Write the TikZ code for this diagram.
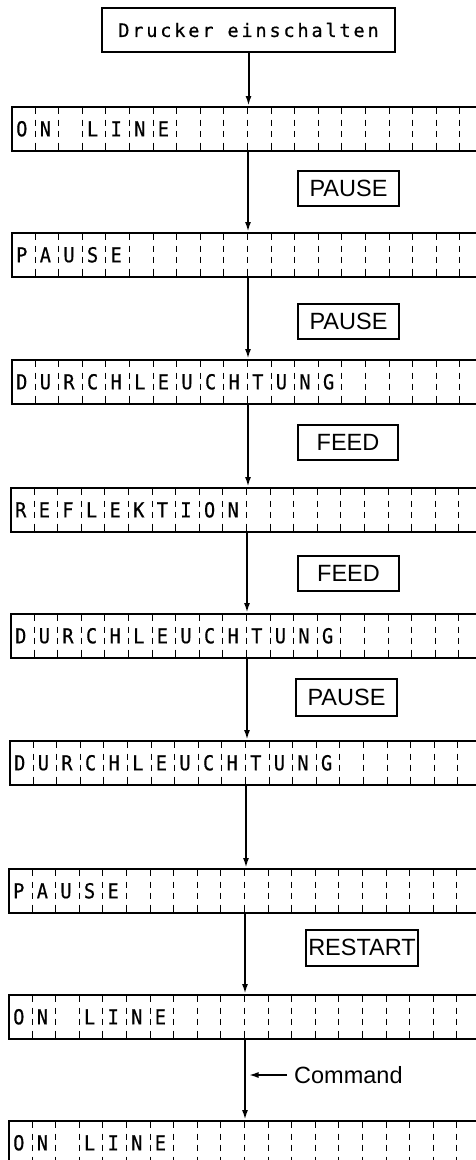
\documentclass[tikz,border=0pt]{standalone}
\usepackage{fontspec}
\usepackage{graphicx}
\usetikzlibrary{arrows.meta}
\newfontfamily\lblfont{Liberation Sans}
\newfontfamily\lcdfontfam[FakeBold=0.6]{DejaVu Sans Mono}
\newfontfamily\topfontfam[LetterSpace=15.5,FakeBold=0.6]{DejaVu Sans Mono}
\tikzset{
  lcdbox/.style={draw, line width=2pt, minimum width=500pt, minimum height=44pt, inner sep=0pt},
  cellsep/.style={line width=1pt, dash pattern=on 7.5pt off 6pt on 6pt off 5pt on 6pt off 6pt on 7.5pt},
  lcdchar/.style={inner sep=0pt, font=\lcdfontfam\fontsize{20.6}{24}\selectfont},
  lbl/.style={draw, line width=2pt, inner sep=0pt, font=\lblfont\fontsize{23.5}{26}\selectfont},
  topbox/.style={draw, line width=2pt, inner sep=0pt, minimum width=293pt, minimum height=44pt, font=\topfontfam\fontsize{18.5}{20}\selectfont},
  flow/.style={line width=2pt, -{Latex[length=10pt,width=6pt]}},
  cmdtext/.style={inner sep=0pt, font=\lblfont\fontsize{23.5}{26}\selectfont}
}
% name, arrow x, top y, letters
\newcommand\lcdrow[4]{%
  \node[lcdbox, anchor=north west] (#1) at (#2-237,#3) {};
  \foreach \j in {1,...,19} {\draw[cellsep] (#2+\j*23.6-236.5,#3) -- ++(0,44);}
  \foreach \c [count=\k] in {#4} {\node[lcdchar] at (#2+\k*23.6-248.3-1.5,#3+22.8) {\scalebox{0.9}[1]{\c}};}
  \coordinate (#1t) at (#2,#3);
  \coordinate (#1b) at (#2,#3+44);
}
\begin{document}
\begin{tikzpicture}[x=1pt,y=-1pt]
\useasboundingbox (0,0) rectangle (476,1160);
\clip (0,0) rectangle (476,1160);

\node[topbox] (start) at (248.5,30) {Drucker einschalten};

\lcdrow{lcdA}{248}{106}{O,N,{},L,I,N,E}
\lcdrow{lcdB}{248}{232}{P,A,U,S,E}
\lcdrow{lcdC}{248}{359}{D,U,R,C,H,L,E,U,C,H,T,U,N,G}
\lcdrow{lcdD}{247}{487}{R,E,F,L,E,K,T,I,O,N}
\lcdrow{lcdE}{247}{613}{D,U,R,C,H,L,E,U,C,H,T,U,N,G}
\lcdrow{lcdF}{246}{740}{D,U,R,C,H,L,E,U,C,H,T,U,N,G}
\lcdrow{lcdG}{245}{868}{P,A,U,S,E}
\lcdrow{lcdH}{245}{994}{O,N,{},L,I,N,E}
\lcdrow{lcdI}{245}{1120}{O,N,{},L,I,N,E}

\node[lbl, minimum width=101pt, minimum height=35pt] (k1) at (348.5,188.5) {PAUSE};
\node[lbl, minimum width=101pt, minimum height=35pt] (k2) at (348.5,321.5) {PAUSE};
\node[lbl, minimum width=100pt, minimum height=35pt] (k3) at (348,442.5) {FEED};
\node[lbl, minimum width=101pt, minimum height=35pt] (k4) at (348.5,573.5) {FEED};
\node[lbl, minimum width=101pt, minimum height=37pt] (k5) at (346.5,697.5) {PAUSE};
\node[lbl, minimum width=112pt, minimum height=36pt] (k6) at (362,947.5) {RESTART};

\draw[flow] (start.south) -- (start.south |- lcdAt);
\draw[flow] (lcdAb) -- (lcdAb |- lcdBt);
\draw[flow] (lcdBb) -- (lcdBb |- lcdCt);
\draw[flow] (lcdCb) -- (lcdCb |- lcdDt);
\draw[flow] (lcdDb) -- (lcdDb |- lcdEt);
\draw[flow] (lcdEb) -- (lcdEb |- lcdFt);
\draw[flow] (lcdFb) -- (lcdFb |- lcdGt);
\draw[flow] (lcdGb) -- (lcdGb |- lcdHt);
\draw[flow] (lcdHb) -- (lcdHb |- lcdIt);

\node[cmdtext, anchor=west] (cmd) at (294,1075) {Command};
\coordinate (cmdS) at (287,1075);
\coordinate (cmdE) at (248.5,1075);
\draw[flow] (cmdS) -- (cmdE);
\end{tikzpicture}
\end{document}
